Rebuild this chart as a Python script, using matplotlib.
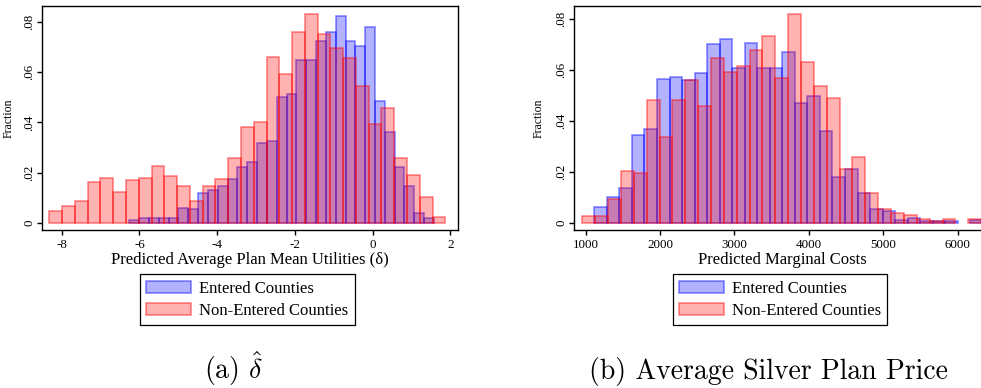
import numpy as np
import matplotlib
matplotlib.use("Agg")
import matplotlib.pyplot as plt
from matplotlib.patches import Patch

plt.rcParams['font.family'] = ['Liberation Serif', 'DejaVu Serif']
plt.rcParams['mathtext.fontset'] = 'cm'

# ---------------- data ----------------
# Panel (a): predicted average plan mean utilities (delta)
a_blue_start, a_blue_width = -6.26, 0.2528
a_blue_frac = [0.0011, 0.0019, 0.0019, 0.0019, 0.0019, 0.0060, 0.0055, 0.0118, 0.0130, 0.0146,
               0.0173, 0.0221, 0.0241, 0.0317, 0.0325, 0.0499, 0.0514, 0.0646, 0.0646, 0.0722,
               0.0758, 0.0821, 0.0722, 0.0702, 0.0777, 0.0485, 0.0360, 0.0221, 0.0146, 0.0038,
               0.0019]
a_red_start, a_red_width = -8.317, 0.3286
a_red_frac = [0.0046, 0.0069, 0.0086, 0.0164, 0.0180, 0.0125, 0.0172, 0.0180, 0.0228, 0.0188,
              0.0148, 0.0086, 0.0149, 0.0174, 0.0260, 0.0380, 0.0401, 0.0661, 0.0591, 0.0758,
              0.0829, 0.0751, 0.0694, 0.0654, 0.0543, 0.0392, 0.0457, 0.0260, 0.0189, 0.0102,
              0.0023]
a_xticks = [-8, -6, -4, -2, 0, 2]
a_xticklabels = ["-8", "-6", "-4", "-2", "0", "2"]
a_xlabel = "Predicted Average Plan Mean Utilities (\u03b4)"
a_caption = r"(a) $\hat{\delta}$"

# Panel (b): predicted marginal costs
b_blue_start, b_blue_width = 1116.5, 168.45
b_blue_frac = [0.0062, 0.0101, 0.0136, 0.0344, 0.0368, 0.0567, 0.0575, 0.0560, 0.0588, 0.0702,
               0.0721, 0.0610, 0.0706, 0.0610, 0.0610, 0.0670, 0.0470, 0.0498, 0.0360, 0.0179,
               0.0213, 0.0117, 0.0054, 0.0046, 0.0010, 0.0018, 0.0007, 0.0007, 0.0007, 0.0,
               0.0010]
b_red_start, b_red_width = 955.0, 172.9
b_red_frac = [0.0029, 0.0029, 0.0094, 0.0203, 0.0195, 0.0482, 0.0338, 0.0482, 0.0560, 0.0458,
              0.0647, 0.0593, 0.0615, 0.0678, 0.0733, 0.0568, 0.0820, 0.0631, 0.0537, 0.0490,
              0.0211, 0.0259, 0.0117, 0.0054, 0.0038, 0.0030, 0.0014, 0.0009, 0.0014, 0.0,
              0.0014]
b_xticks = [1000, 2000, 3000, 4000, 5000, 6000]
b_xticklabels = ["1000", "2000", "3000", "4000", "5000", "6000"]
b_xlabel = "Predicted Marginal Costs"
b_caption = "(b) Average Silver Plan Price"

yticks = [0, 0.02, 0.04, 0.06, 0.08]
yticklabels = ["0", ".02", ".04", ".06", ".08"]
ylabel = "Fraction"
legend_labels = ["Entered Counties", "Non-Entered Counties"]

# ---------------- style ----------------
BLUE_FACE = (0, 0, 1, 0.30)
BLUE_EDGE = (0, 0, 1, 0.45)
RED_FACE = (1, 0, 0, 0.30)
RED_EDGE = (1, 0, 0, 0.45)
LW = 1.2

W, H = 981, 388
fig = plt.figure(figsize=(W / 100, H / 100), dpi=100)


def px_axes(x0, x1, y0, y1):
    return fig.add_axes([x0 / W, 1 - y1 / H, (x1 - x0) / W, (y1 - y0) / H])


def draw_hist(ax, start, width, frac, face, edge):
    frac = np.asarray(frac)
    edges = start + width * np.arange(len(frac))
    m = frac > 0
    ax.bar(edges[m], frac[m], width=width, align='edge', facecolor=face,
           edgecolor=edge, linewidth=LW, zorder=2)


def style_axes(ax, xticks, xticklabels, xlabel, ylabel_x):
    ax.set_xticks(xticks)
    ax.set_xticklabels(xticklabels)
    ax.set_yticks(yticks)
    ax.set_yticklabels(yticklabels, rotation=90, va='center')
    ax.tick_params(axis='both', direction='out', length=3.4, width=1.0,
                   labelsize=9.4, colors='black')
    ax.tick_params(axis='x', pad=3.2)
    ax.tick_params(axis='y', pad=1.5)
    for s in ax.spines.values():
        s.set_linewidth(1.0)
        s.set_color('black')
    ax.set_xlabel(xlabel, fontsize=12)
    ax.xaxis.set_label_coords(0.5, -0.097)
    ax.xaxis.label.set_va('top')
    ax.set_ylabel(ylabel, fontsize=8.5)
    ax.yaxis.set_label_coords(ylabel_x, 0.5)


# Panel (a)
ax1 = px_axes(42, 457.7, 6, 230)
draw_hist(ax1, a_blue_start, a_blue_width, a_blue_frac, BLUE_FACE, BLUE_EDGE)
draw_hist(ax1, a_red_start, a_red_width, a_red_frac, RED_FACE, RED_EDGE)
ax1.set_xlim(-8.506, 2.187)
ax1.set_ylim(-0.00278, 0.08623)
style_axes(ax1, a_xticks, a_xticklabels, a_xlabel, (15 - 42) / 415.7)

# Panel (b)
ax2 = px_axes(574.3, 990, 6.3, 230)
draw_hist(ax2, b_blue_start, b_blue_width, b_blue_frac, BLUE_FACE, BLUE_EDGE)
draw_hist(ax2, b_red_start, b_red_width, b_red_frac, RED_FACE, RED_EDGE)
ax2.set_xlim(847.2, 6434.5)
ax2.set_ylim(-0.00275, 0.08512)
style_axes(ax2, b_xticks, b_xticklabels, b_xlabel, (544.7 - 574.3) / 415.7)

# Legends
handles = [Patch(facecolor=BLUE_FACE, edgecolor=BLUE_EDGE, linewidth=LW),
           Patch(facecolor=RED_FACE, edgecolor=RED_EDGE, linewidth=LW)]
for lx in (140.1, 672.7):
    leg = fig.legend(handles, legend_labels, loc='upper left',
                     bbox_to_anchor=(lx / W, 1 - 274.3 / H), bbox_transform=fig.transFigure,
                     borderaxespad=0, fontsize=12, frameon=True, fancybox=False,
                     edgecolor='black', framealpha=1, handlelength=2.67,
                     handleheight=0.68, handletextpad=0.5, borderpad=0.38,
                     labelspacing=0.38)
    leg.get_frame().set_linewidth(0.9)

# Captions
fig.text(203.5 / W, 1 - 378.5 / H, a_caption, family='cmr10', fontsize=20,
         ha='left', va='baseline')
fig.text(589 / W, 1 - 378.5 / H, b_caption, family='cmr10', fontsize=20,
         ha='left', va='baseline')

fig.savefig("out.png", dpi=100)
